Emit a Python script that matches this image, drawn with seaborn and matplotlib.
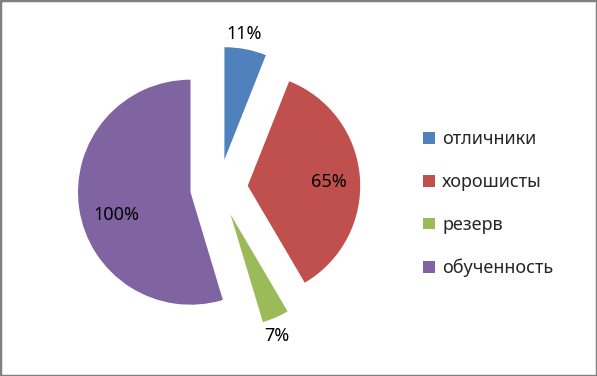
import numpy as np
import seaborn as sns
import matplotlib.pyplot as plt
from matplotlib.patches import Rectangle

# данные диаграммы
categories = ["отличники", "хорошисты", "резерв", "обученность"]
values = [11, 65, 7, 100]
labels = ["11%", "65%", "7%", "100%"]
colors = ["#4F81BD", "#C0504D", "#9BBB59", "#8064A2"]

sns.set_theme(style="white")
plt.rcParams['font.family'] = ['Noto Sans', 'DejaVu Sans']

W, H = 597, 376
fig = plt.figure(figsize=(W / 100, H / 100), dpi=100)
ax = fig.add_axes([0, 0, 1, 1])

R = 112.5
cx, cy = 219, H - 188
# explode в pie задаётся в единицах данных
wedges, _ = ax.pie(values, colors=colors, startangle=90, counterclock=False,
                   explode=[0.256 * R] * 4, radius=R, center=(cx, cy),
                   wedgeprops=dict(linewidth=0))
# pie сбрасывает пределы осей, задаём их заново
ax.set_xlim(0, W)
ax.set_ylim(0, H)
ax.set_aspect('equal')
ax.axis('off')

# подписи: расстояние от центра сектора (в радиусах) и сдвиг угла
lab_pos = [(1.13, 1.8), (0.72, -1.7), (1.156, -2.9), (0.69, 8.4)]
for w, lab, (d, da) in zip(wedges, labels, lab_pos):
    mid = np.deg2rad((w.theta1 + w.theta2) / 2 + da)
    x0, y0 = w.center
    ax.text(x0 + d * R * np.cos(mid), y0 + d * R * np.sin(mid), lab,
            ha='center', va='center', fontsize=13, color='black')

ax.legend(wedges, categories, loc='upper left', bbox_to_anchor=(416 / W, 1 - 123 / H),
          frameon=False, fontsize=13, handlelength=0.65, handleheight=0.6,
          handletextpad=0.4, labelspacing=1.38, borderaxespad=0)

fig.patches.append(Rectangle((0, 0), 1, 1, transform=fig.transFigure, fill=False,
                             edgecolor='#808080', linewidth=2.5))

fig.savefig('out.png', dpi=100)
